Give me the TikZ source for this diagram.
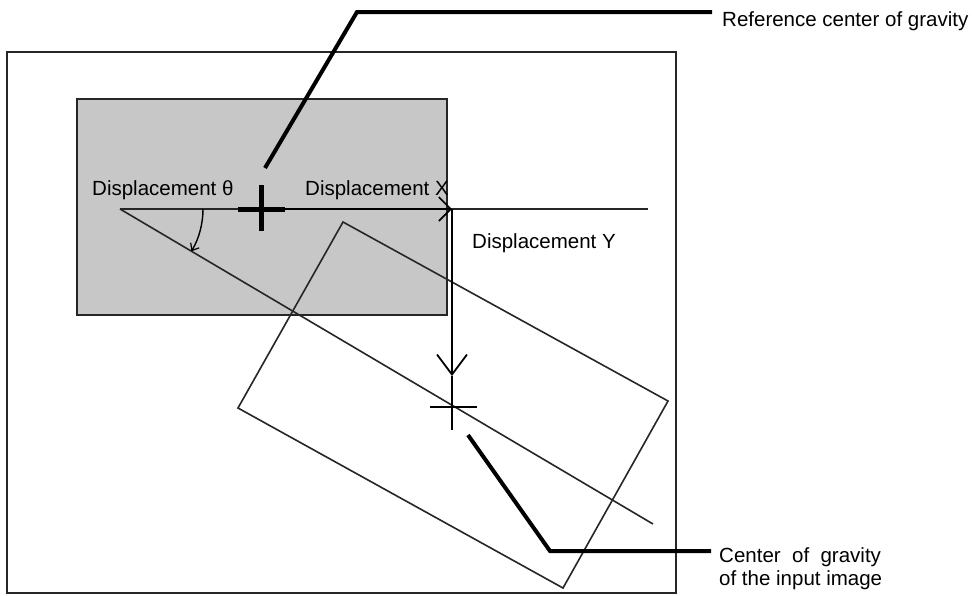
\documentclass[tikz,border=0pt]{standalone}
\usepackage{fontspec}
\setmainfont{Liberation Sans}
\usetikzlibrary{arrows.meta}
\begin{document}
\begin{tikzpicture}[x=1pt,y=-1pt,
  thinline/.style={line width=1.6pt,draw=black!85},
  leader/.style={line width=4pt,draw=black},
  lbl/.style={anchor=base west,inner sep=0pt,font=\fontsize{20.5}{23}\selectfont},
  lbl2/.style={anchor=north west,inner sep=0pt,align=left,font=\fontsize{20.5}{23}\selectfont}]
\useasboundingbox (0,0) rectangle (972,595);
\fill[white] (0,0) rectangle (972,595);
% outer frame
\draw[thinline] (7,52) rectangle (676,593);
% gray reference image
\draw[thinline,fill=black!22] (77,99) rectangle (447,315);
% key points
\coordinate (O) at (120,209);
\coordinate (RC) at (261,209);
\coordinate (XT) at (452,209);
\coordinate (HE) at (648,209);
\coordinate (YT) at (452,376);
\coordinate (IC) at (452,407);
\coordinate (DE) at (653,524);
% rotated input image
\draw[thinline] (343,222) -- (668,401) -- (563,588) -- (238,408) -- cycle;
% horizontal reference line
\draw[thinline] (O) -- (HE);
% diagonal line
\draw[thinline] (O) -- (DE);
% displacement X arrow
\draw[line width=2.2pt,-{Straight Barb[length=12pt,width=24pt,line width=1.6pt]}] (RC) -- (XT);
% displacement Y arrow
\draw[line width=2.4pt] (XT) -- (452,330);
\draw[line width=1.8pt,-{Straight Barb[length=20pt,width=30pt,line width=1.8pt]}] (452,330) -- (YT);
% angle arc
\draw[line width=1.4pt,-{Straight Barb[length=6pt,width=10pt,line width=1.2pt]}] (203,209) arc[start angle=0,end angle=30.6,radius=83];
% reference center cross (thick)
\draw[line width=5pt] (238,209) -- (285,209);
\draw[line width=5pt] (RC) ++(0,-24) -- ++(0,46);
% input center cross
\draw[line width=1.8pt] (430,407) -- (477,407);
\draw[line width=1.8pt] (YT) -- (452,430);
% leaders
\coordinate (L1a) at (265,168);
\coordinate (L1b) at (357,12);
\coordinate (L1c) at (712,12);
\draw[leader] (L1a) -- (L1b) -- (L1c);
\coordinate (L2a) at (468,435);
\coordinate (L2b) at (550,551);
\coordinate (L2c) at (711,551);
\draw[leader] (L2a) -- (L2b) -- (L2c);
% labels
\node[lbl] (lref) at (722,26) {Reference center of gravity};
\node[lbl] (ltheta) at (92,195) {Displacement θ};
\node[lbl] (lx) at (305,195) {Displacement X};
\node[lbl] (ly) at (472,248) {Displacement Y};
\node[lbl] (lin1) at (719,562) {Center\ \ of\ \ gravity};
\node[lbl] (lin2) at (719,585) {of the input image};
\end{tikzpicture}
\end{document}
